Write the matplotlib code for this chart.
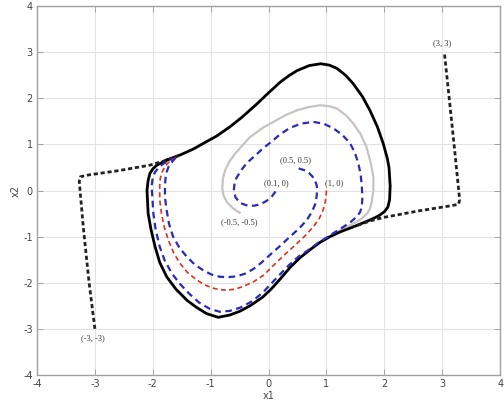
import matplotlib
matplotlib.use("Agg")
import matplotlib.pyplot as plt

# ---- data (phase-plane trajectories) ----
limit_x = [-1.76, -1.53, -1.30, -1.13, -0.90, -0.67, -0.45, -0.21, 0.00, 0.20, 0.35, 0.49, 0.70, 0.90,
           1.05, 1.18, 1.33, 1.46, 1.62, 1.75, 1.88, 1.98, 2.05, 2.08, 2.10, 2.09, 2.06, 2.00,
           1.90, 1.75, 1.46, 1.25, 1.06, 0.88, 0.71, 0.54, 0.37, 0.20, 0.05, -0.10, -0.32, -0.50,
           -0.67, -0.87, -1.07, -1.25, -1.41, -1.60, -1.76, -1.88, -1.96, -2.03, -2.08, -2.10,
           -2.08, -2.05, -2.00, -1.93, -1.76]
limit_y = [0.66, 0.77, 0.90, 1.02, 1.18, 1.38, 1.60, 1.87, 2.12, 2.35, 2.49, 2.60, 2.71, 2.75,
           2.72, 2.65, 2.50, 2.32, 2.04, 1.74, 1.38, 1.02, 0.70, 0.50, 0.10, -0.20, -0.36, -0.46,
           -0.55, -0.64, -0.79, -0.89, -1.00, -1.13, -1.29, -1.46, -1.67, -1.92, -2.13, -2.31, -2.50, -2.62,
           -2.70, -2.75, -2.67, -2.53, -2.38, -2.14, -1.87, -1.56, -1.22, -0.85, -0.50, 0.01,
           0.22, 0.37, 0.47, 0.55, 0.66]

gray_x = [-0.50, -0.62, -0.72, -0.78, -0.80, -0.79, -0.75, -0.68, -0.58, -0.45, -0.32, -0.10, 0.14,
          0.30, 0.49, 0.69, 0.89, 1.05, 1.18, 1.33, 1.46, 1.59, 1.69, 1.76, 1.81, 1.81, 1.78,
          1.75, 1.70, 1.62, 1.52, 1.30, 1.06, 0.71]
gray_y = [-0.48, -0.38, -0.25, -0.10, 0.05, 0.25, 0.44, 0.62, 0.80, 0.98, 1.16, 1.36, 1.53,
          1.64, 1.74, 1.81, 1.85, 1.83, 1.78, 1.64, 1.46, 1.22, 0.95, 0.62, 0.30, 0.00, -0.25,
          -0.40, -0.50, -0.60, -0.68, -0.82, -0.99, -1.28]

blue1_x = [0.12, 0.05, -0.03, -0.14, -0.26, -0.38, -0.49, -0.57, -0.60, -0.59, -0.56, -0.48, -0.38,
           -0.24, -0.09, 0.05, 0.20, 0.37, 0.56, 0.77, 0.95, 1.12, 1.28, 1.41, 1.49, 1.55, 1.59,
           1.61, 1.62, 1.61, 1.58, 1.52, 1.42, 1.29, 1.15, 1.00, 0.85, 0.70, 0.52, 0.35, 0.15,
           -0.09, -0.28, -0.49, -0.67, -0.84, -1.01, -1.20, -1.36, -1.52, -1.67, -1.80, -1.88,
           -1.95, -1.99, -2.02, -2.00, -1.96, -1.90, -1.82, -1.65]
blue1_y = [-0.02, -0.14, -0.22, -0.30, -0.33, -0.32, -0.27, -0.15, 0.00, 0.13, 0.26, 0.43, 0.59,
           0.75, 0.92, 1.06, 1.22, 1.36, 1.45, 1.49, 1.45, 1.35, 1.20, 1.02, 0.82, 0.59, 0.35,
           0.10, -0.15, -0.35, -0.47, -0.57, -0.68, -0.79, -0.90, -1.02, -1.14, -1.28, -1.43, -1.62, -1.88,
           -2.20, -2.40, -2.54, -2.61, -2.63, -2.57, -2.43, -2.25, -2.04, -1.80, -1.50, -1.22,
           -0.85, -0.50, 0.10, 0.28, 0.40, 0.50, 0.58, 0.69]

red_x = [1.00, 0.99, 0.97, 0.94, 0.87, 0.77, 0.64, 0.49, 0.33, 0.17, 0.04, -0.09, -0.26, -0.44,
         -0.58, -0.72, -0.84, -0.95, -1.10, -1.24, -1.40, -1.53, -1.64, -1.73, -1.80, -1.85,
         -1.88, -1.88, -1.87, -1.84, -1.79, -1.72, -1.60]
red_y = [0.00, -0.15, -0.30, -0.43, -0.62, -0.79, -0.97, -1.15, -1.33, -1.52, -1.68, -1.84, -1.98, -2.08,
         -2.14, -2.16, -2.15, -2.12, -2.05, -1.94, -1.78, -1.58, -1.35, -1.08, -0.80, -0.50,
         -0.20, 0.10, 0.27, 0.40, 0.52, 0.62, 0.72]

blue2_x = [0.52, 0.62, 0.70, 0.76, 0.80, 0.83, 0.84, 0.83, 0.81, 0.75, 0.66, 0.53, 0.37, 0.20,
           0.02, -0.12, -0.26, -0.40, -0.55, -0.70, -0.84, -0.99, -1.13, -1.28, -1.41, -1.54,
           -1.65, -1.72, -1.76, -1.79, -1.79, -1.78, -1.76, -1.73, -1.68, -1.60]
blue2_y = [0.48, 0.44, 0.38, 0.30, 0.22, 0.12, 0.02, -0.12, -0.28, -0.46, -0.64, -0.82, -1.00, -1.20,
           -1.40, -1.56, -1.70, -1.80, -1.86, -1.88, -1.87, -1.82, -1.73, -1.60, -1.44, -1.24,
           -1.00, -0.72, -0.43, -0.15, 0.10, 0.27, 0.40, 0.51, 0.60, 0.72]

outA_x = [-3.00, -3.10, -3.20, -3.27, -3.25, -3.10, -2.60, -2.05, -1.76, -1.53]
outA_y = [-3.00, -2.00, -0.80, 0.20, 0.30, 0.34, 0.43, 0.55, 0.66, 0.77]

outB_x = [3.04, 3.12, 3.22, 3.30, 3.28, 3.10, 2.60, 2.00, 1.75, 1.46]
outB_y = [2.95, 2.00, 0.80, -0.20, -0.30, -0.34, -0.44, -0.58, -0.66, -0.79]

label_text = ["(0.5, 0.5)", "(0.1, 0)", "(1, 0)", "(-0.5, -0.5)", "(3, 3)", "(-3, -3)"]
label_x = [0.47, 0.13, 1.13, -0.50, 3.00, -3.04]
label_y = [0.66, 0.15, 0.15, -0.68, 3.19, -3.21]

ticks = [-4, -3, -2, -1, 0, 1, 2, 3, 4]

# ---- figure ----
fig = plt.figure(figsize=(5.04, 4.08), dpi=100)
ax = fig.add_axes([0.0734, 0.081, 0.919, 0.904])

ax.plot(limit_x, limit_y, color="black", lw=2.0, solid_joinstyle="round", zorder=3)
ax.plot(gray_x, gray_y, color="#c9c2c2", lw=1.6, solid_joinstyle="round", zorder=2)
ax.plot(outA_x, outA_y, color="#222222", lw=2.0, ls=(0, (1.5, 1.0)), zorder=4)
ax.plot(outB_x, outB_y, color="#222222", lw=2.0, ls=(0, (1.5, 1.0)), zorder=4)
ax.plot(blue1_x, blue1_y, color="#2a2ab8", lw=1.6, ls=(0, (3, 2)), zorder=4)
ax.plot(red_x, red_y, color="#e03020", lw=1.2, ls=(0, (3, 2)), zorder=4)
ax.plot(blue2_x, blue2_y, color="#2a2ab8", lw=1.6, ls=(0, (3, 2)), zorder=4)

for t, x, y in zip(label_text, label_x, label_y):
    ax.text(x, y, t, fontsize=6, family="Liberation Serif", color="#333333",
            ha="center", va="center", zorder=5)

ax.set_xlim(-4, 4)
ax.set_ylim(-4, 4)
ax.set_xticks(ticks)
ax.set_yticks(ticks)
ax.set_xticklabels([str(t) for t in ticks])
ax.set_yticklabels([str(t) for t in ticks])
ax.grid(True, color="#e2e2e2", lw=0.8)
ax.set_axisbelow(True)
ax.tick_params(direction="in", length=4, width=0.6, colors="#999999", labelcolor="#444444",
               labelsize=7, top=True, right=True, pad=3)
for s in ax.spines.values():
    s.set_color("#a0a0a0")
    s.set_linewidth(1.0)
ax.set_xlabel("x1", fontsize=7, color="#444444", labelpad=1)
ax.set_ylabel("x2", fontsize=7, color="#444444", labelpad=2)

fig.savefig("out.png", dpi=100)
